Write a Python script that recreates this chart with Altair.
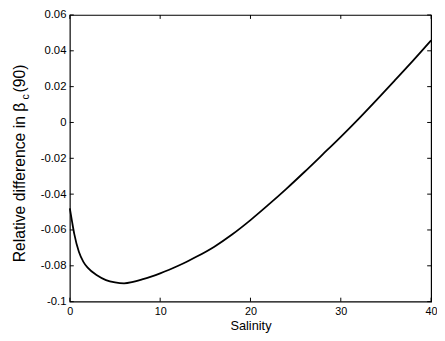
import altair as alt
import pandas as pd

salinity = [0, 0.25, 0.5, 1, 1.5, 2, 3, 4, 5, 6, 7, 8, 9, 10, 11, 12, 13, 14, 16, 18,
            20, 22, 24, 26, 28, 30, 32, 34, 36, 38, 40]
rel_diff = [-0.048, -0.0555, -0.0625, -0.0722, -0.0778, -0.0812, -0.0853, -0.0880,
            -0.0893, -0.0898, -0.0890, -0.0876, -0.0860, -0.0842, -0.0822, -0.0800,
            -0.0776, -0.0750, -0.0693, -0.0624, -0.0545, -0.0459, -0.0369, -0.0275,
            -0.0178, -0.0080, 0.0022, 0.0128, 0.0236, 0.0345, 0.0458]
x_ticks = [0, 10, 20, 30, 40]
y_ticks = [-0.1, -0.08, -0.06, -0.04, -0.02, 0, 0.02, 0.04, 0.06]

W, H = 368, 292
FONT = "Liberation Sans"
TL = 4

df = pd.DataFrame({"s": salinity, "d": rel_diff})
xt = pd.DataFrame({"t": x_ticks})
yt = pd.DataFrame({"t": y_ticks})

xscale = alt.Scale(domain=[0, 40], nice=False, zero=False)
yscale = alt.Scale(domain=[-0.1, 0.06], nice=False, zero=False)

xaxis = alt.Axis(values=x_ticks, title="Salinity", ticks=False, domain=False, grid=False,
                 labelFontSize=11, labelPadding=4, labelColor="black", labelFlush=False,
                 labelOverlap=False,
                 titleFontSize=13, titleFontWeight="normal", titlePadding=3,
                 titleColor="black", labelFont=FONT, titleFont=FONT)
yaxis = alt.Axis(values=y_ticks, title=None, ticks=False, domain=False, grid=False,
                 labelFontSize=11.5, labelPadding=4, labelColor="black", labelFont=FONT,
                 labelFlush=False, labelOverlap=False,
                 labelExpr="replace(format(datum.value, '~g'), '\u2212', '-')")

line = alt.Chart(df).mark_line(color="black", strokeWidth=1.8, interpolate="monotone").encode(
    x=alt.X("s:Q", scale=xscale, axis=xaxis),
    y=alt.Y("d:Q", scale=yscale, axis=yaxis),
)

bx = alt.Chart(xt).mark_rule(color="black", strokeWidth=1).encode(
    x=alt.X("t:Q", scale=xscale, axis=xaxis), y=alt.value(H), y2=alt.value(H - TL))
tx = alt.Chart(xt).mark_rule(color="black", strokeWidth=1).encode(
    x=alt.X("t:Q", scale=xscale, axis=xaxis), y=alt.value(0), y2=alt.value(TL))
ly = alt.Chart(yt).mark_rule(color="black", strokeWidth=1).encode(
    y=alt.Y("t:Q", scale=yscale, axis=yaxis), x=alt.value(0), x2=alt.value(TL))
ry = alt.Chart(yt).mark_rule(color="black", strokeWidth=1).encode(
    y=alt.Y("t:Q", scale=yscale, axis=yaxis), x=alt.value(W), x2=alt.value(W - TL))

TF = 16
title_main = alt.Chart(pd.DataFrame({"a": [0]})).mark_text(
    text="Relative difference in \u03b2", angle=270, align="left", baseline="alphabetic",
    fontSize=TF, font=FONT, color="black").encode(x=alt.value(-46), y=alt.value(252))
title_sub = alt.Chart(pd.DataFrame({"a": [0]})).mark_text(
    text="c", angle=270, align="left", baseline="alphabetic",
    fontSize=11, font=FONT, color="black").encode(x=alt.value(-42), y=alt.value(86))
title_end = alt.Chart(pd.DataFrame({"a": [0]})).mark_text(
    text="(90)", angle=270, align="left", baseline="alphabetic",
    fontSize=TF, font=FONT, color="black").encode(x=alt.value(-46), y=alt.value(79))

chart = alt.layer(line, bx, tx, ly, ry, title_main, title_sub, title_end).properties(
    width=W, height=H,
    autosize=alt.AutoSizeParams(type="none"),
    padding={"left": 63, "top": 4, "right": 6, "bottom": 37},
).configure_view(stroke="black", strokeWidth=1.2)

chart.save("out.html", embed_options={"renderer": "svg", "actions": False})
